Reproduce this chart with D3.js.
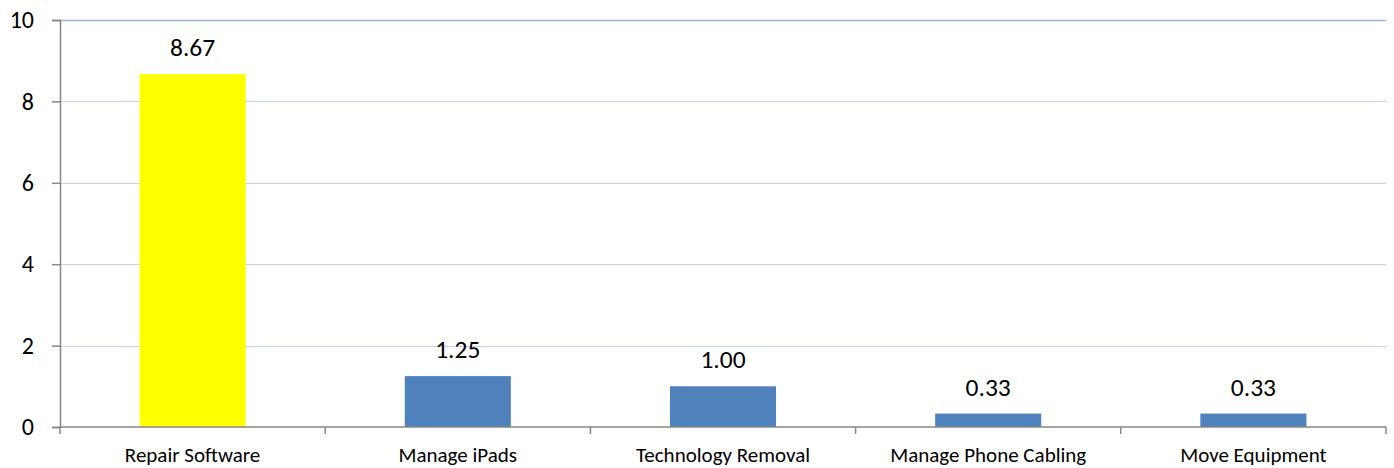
<!DOCTYPE html>
<html>
<head>
<meta charset="utf-8">
<script src="https://cdn.jsdelivr.net/npm/d3@7"></script>
<style>
  body { margin: 0; background: #fff; }
  svg { display: block; }
</style>
</head>
<body>
<div id="chart"></div>
<script>
const categories = ["Repair Software", "Manage iPads", "Technology Removal", "Manage Phone Cabling", "Move Equipment"]
const values = [8.67, 1.25, 1.00, 0.33, 0.33]
const barColors = ["#ffff00", "#4f81bd", "#4f81bd", "#4f81bd", "#4f81bd"]
const yTicks = [0, 2, 4, 6, 8, 10]

const width = 1394
const height = 468
const margin = { top: 20, right: 8, bottom: 41, left: 60 }
const font = "Carlito, 'Liberation Sans', 'Noto Sans', sans-serif"

const svg = d3.select("#chart").append("svg")
  .attr("width", width)
  .attr("height", height)

const x = d3.scaleBand()
  .domain(categories)
  .range([margin.left, width - margin.right])
  .paddingInner(0.6)
  .paddingOuter(0.3)

// band edges for the category tick marks
const step = (width - margin.right - margin.left) / categories.length

const y = d3.scaleLinear()
  .domain([0, 10])
  .range([height - margin.bottom, margin.top])

// gridlines
svg.append("g")
  .selectAll("line")
  .data(yTicks.filter(d => d > 0))
  .join("line")
  .attr("x1", margin.left)
  .attr("x2", width - margin.right)
  .attr("y1", d => Math.round(y(d)) + 0.5)
  .attr("y2", d => Math.round(y(d)) + 0.5)
  .attr("stroke", d => d === 10 ? "#9db5dc" : "#c3d1ea")
  .attr("stroke-width", d => d === 10 ? 1.5 : 1)

// bars
svg.append("g")
  .selectAll("rect")
  .data(values)
  .join("rect")
  .attr("x", (d, i) => x(categories[i]))
  .attr("y", d => y(d))
  .attr("width", x.bandwidth())
  .attr("height", d => y(0) - y(d))
  .attr("fill", (d, i) => barColors[i])

// value labels
svg.append("g")
  .attr("font-family", font)
  .attr("font-size", 25.5)
  .attr("text-anchor", "middle")
  .selectAll("text")
  .data(values)
  .join("text")
  .attr("x", (d, i) => x(categories[i]) + x.bandwidth() / 2)
  .attr("y", d => y(d) - 18)
  .attr("fill", "#000")
  .text(d => d3.format(".2f")(d))

// y axis
const yAxis = svg.append("g")
  .attr("transform", `translate(${margin.left},0)`)
  .call(d3.axisLeft(y).tickValues(yTicks).tickSize(8).tickPadding(18).tickFormat(d3.format("d")))
yAxis.select(".domain").attr("stroke", "#868686").attr("stroke-width", 1.5)
yAxis.selectAll(".tick line").attr("stroke", "#868686").attr("stroke-width", 1.5)
yAxis.selectAll("text")
  .attr("font-family", font)
  .attr("font-size", 24)
  .attr("fill", "#000")

// x axis
const xAxis = svg.append("g")
  .attr("transform", `translate(0,${y(0)})`)
xAxis.append("line")
  .attr("x1", margin.left)
  .attr("x2", width - margin.right)
  .attr("stroke", "#868686")
  .attr("stroke-width", 1.5)
xAxis.selectAll(".tk")
  .data(d3.range(categories.length + 1))
  .join("line")
  .attr("class", "tk")
  .attr("x1", i => margin.left + i * step)
  .attr("x2", i => margin.left + i * step)
  .attr("y1", 0)
  .attr("y2", 7)
  .attr("stroke", "#868686")
  .attr("stroke-width", 1.5)
xAxis.selectAll("text")
  .data(categories)
  .join("text")
  .attr("x", d => x(d) + x.bandwidth() / 2)
  .attr("y", 35)
  .attr("text-anchor", "middle")
  .attr("font-family", font)
  .attr("font-size", 21)
  .attr("fill", "#000")
  .text(d => d)
</script>
</body>
</html>
